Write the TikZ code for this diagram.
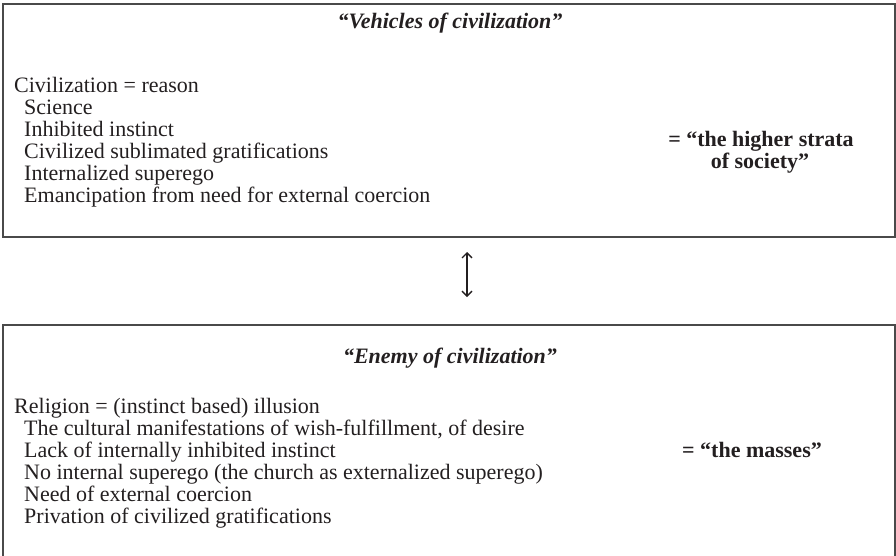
\documentclass[tikz,border=0pt]{standalone}
\usepackage{fontspec}
\setmainfont{Liberation Serif}
\usetikzlibrary{arrows.meta}
\definecolor{ink}{HTML}{231F20}
\definecolor{frame}{HTML}{4A4A4A}
\tikzset{
  box/.style={draw=frame, line width=1.2pt, rectangle, inner sep=0pt},
  txt/.style={anchor=base west, inner sep=0pt, text=ink, font=\fontsize{22}{22}\selectfont},
  ttl/.style={anchor=base, inner sep=0pt, text=ink, font=\fontsize{22}{22}\selectfont\bfseries\itshape},
  side/.style={anchor=base, inner sep=0pt, text=ink, font=\fontsize{22}{22}\selectfont\bfseries},
  link/.style={draw=ink, line width=1.3pt, {Straight Barb[length=5pt,width=10pt]}-{Straight Barb[length=5pt,width=10pt]}}
}
\begin{document}
\begin{tikzpicture}[x=1pt,y=-1pt]
\useasboundingbox (0,0) rectangle (896,555);
\node[box, minimum width=892pt, minimum height=233pt] (topbox) at (449,120.5) {};
\node[box, minimum width=892pt, minimum height=240pt] (botbox) at (449,445) {};
\node[ttl] (t1) at (450,28) {“Vehicles of civilization”};
\node[txt] (a1) at (14,92) {Civilization = reason};
\node[txt] (a2) at (24,114) {Science};
\node[txt] (a3) at (24,136) {Inhibited instinct};
\node[txt] (a4) at (24,158) {Civilized sublimated gratifications};
\node[txt] (a5) at (24,180) {Internalized superego};
\node[txt] (a6) at (24,202) {Emancipation from need for external coercion};
\node[side] (s1) at (761,146) {= “the higher strata};
\node[side] (s1b) at (760,168) {of society”};
\node[ttl] (t2) at (450,363) {“Enemy of civilization”};
\node[txt] (b1) at (14,413) {Religion = (instinct based) illusion};
\node[txt] (b2) at (24,435) {The cultural manifestations of wish-fulfillment, of desire};
\node[txt] (b3) at (24,457) {Lack of internally inhibited instinct};
\node[txt] (b4) at (24,479) {No internal superego (the church as externalized superego)};
\node[txt] (b5) at (24,501) {Need of external coercion};
\node[txt] (b6) at (24,523) {Privation of civilized gratifications};
\node[side] (s2) at (752,457) {= “the masses”};
\coordinate (p1) at (467,252);
\coordinate (p2) at (467,297);
\draw[link] (p1) -- (p2);
\end{tikzpicture}
\end{document}
